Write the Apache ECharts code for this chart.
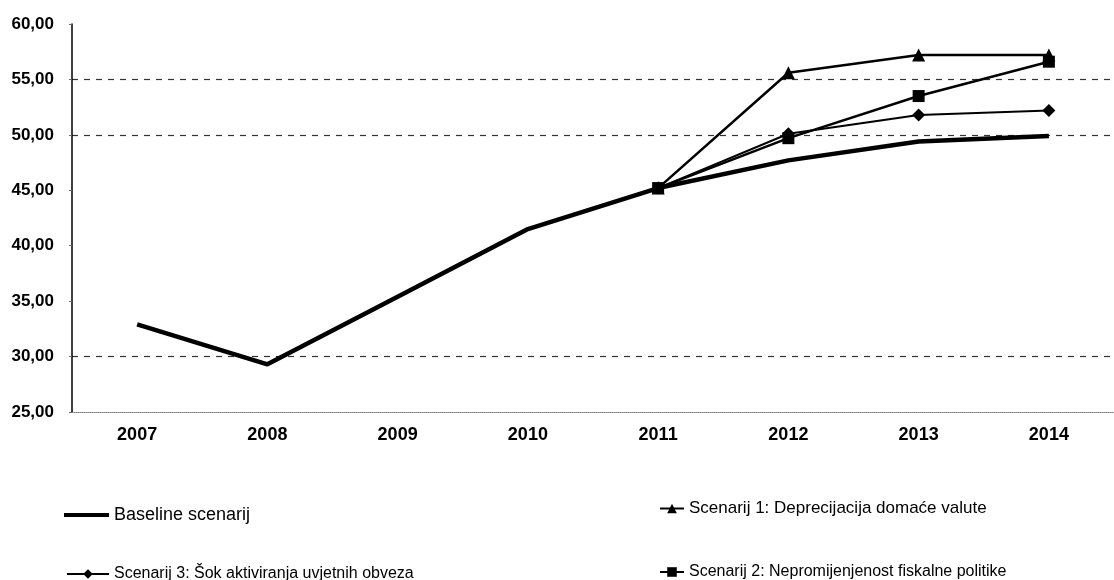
<!DOCTYPE html>
<html>
<head>
<meta charset="utf-8">
<script src="https://cdn.jsdelivr.net/npm/echarts@6/dist/echarts.min.js"></script>
<style>html,body{margin:0;padding:0;background:#fff;}#c{width:1114px;height:580px;}</style>
</head>
<body>
<div id="c"></div>
<script>
var years = ['2007','2008','2009','2010','2011','2012','2013','2014'];
var baseline = [32.9, 29.3, 35.4, 41.5, 45.2, 47.7, 49.4, 49.9];
var scen1 = [null, null, null, null, 45.2, 55.6, 57.2, 57.2];
var scen2 = [null, null, null, null, 45.2, 49.7, 53.5, 56.6];
var scen3 = [null, null, null, null, 45.2, 50.1, 51.8, 52.2];
var names = ['Baseline scenarij', 'Scenarij 1: Deprecijacija domaće valute', 'Scenarij 2: Nepromijenjenost fiskalne politike', 'Scenarij 3: Šok aktiviranja uvjetnih obveza'];

var chart = echarts.init(document.getElementById('c'));
function lg(item, left, top, w, h, fs) {
  return {data: [item], left: left, top: top, itemWidth: w, itemHeight: h, itemGap: 0,
    textStyle: {fontFamily: '"Liberation Sans", Arial, sans-serif', fontSize: fs, color: '#000'},
    selectedMode: false, padding: 0};
}
chart.setOption({
  animation: false,
  backgroundColor: '#fff',
  grid: {left: 72, top: 24, width: 1053, bottom: 168},
  legend: [
    lg({name: names[0], icon: 'rect'}, 64, 506, 45, 4, 18),
    lg(names[1], 659, 500, 24, 12, 17),
    lg(names[3], 66, 566, 42, 12, 16),
    lg(names[2], 659, 564, 24, 12, 16)
  ],
  xAxis: {
    type: 'category', data: years, boundaryGap: true,
    axisLine: {lineStyle: {color: '#777', type: 'dotted', width: 1}},
    axisTick: {show: false},
    axisLabel: {margin: 14, fontFamily: '"Liberation Sans", Arial, sans-serif', fontWeight: 'bold', fontSize: 18, color: '#000'}
  },
  yAxis: {
    type: 'value', min: 25, max: 60, interval: 5,
    axisLine: {show: true, lineStyle: {color: '#000', width: 1.5}},
    axisTick: {show: true, length: 3, lineStyle: {color: '#666'}},
    axisLabel: {margin: 18, fontFamily: '"Liberation Sans", Arial, sans-serif', fontWeight: 'bold', fontSize: 17, color: '#000',
      formatter: function (v) { return v.toFixed(2).replace('.', ','); }},
    splitLine: {show: true, lineStyle: {type: [6, 6], width: 1.2,
      color: ['rgba(0,0,0,0)', '#333', 'rgba(0,0,0,0)', 'rgba(0,0,0,0)', 'rgba(0,0,0,0)', '#333', '#333', 'rgba(0,0,0,0)']}}
  },
  series: [
    {name: names[0], type: 'line', data: baseline, symbol: 'none', lineStyle: {color: '#000', width: 4.5}, itemStyle: {color: '#000'}},
    {name: names[1], type: 'line', data: scen1, symbol: 'triangle', symbolSize: 13, lineStyle: {color: '#000', width: 2.5}, itemStyle: {color: '#000'}},
    {name: names[2], type: 'line', data: scen2, symbol: 'rect', symbolSize: 12, lineStyle: {color: '#000', width: 2.5}, itemStyle: {color: '#000'}},
    {name: names[3], type: 'line', data: scen3, symbol: 'diamond', symbolSize: 13, lineStyle: {color: '#000', width: 2}, itemStyle: {color: '#000'}}
  ]
});
</script>
</body>
</html>
